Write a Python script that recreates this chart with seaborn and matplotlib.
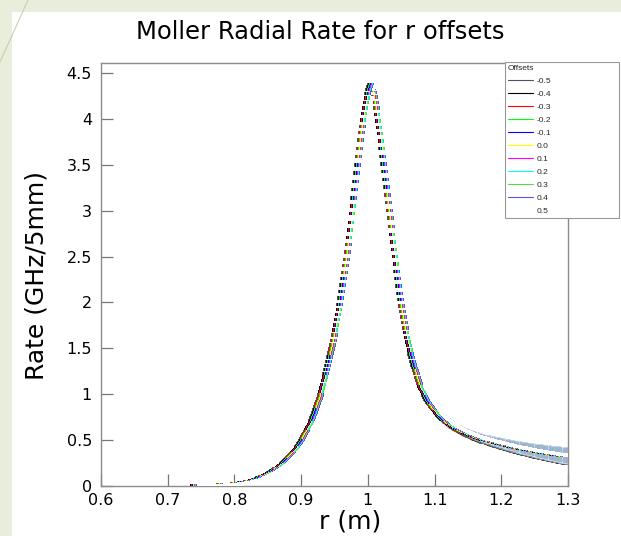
import numpy as np
import pandas as pd
import matplotlib
matplotlib.use("Agg")
import matplotlib.pyplot as plt
from matplotlib.lines import Line2D
from matplotlib.patches import Rectangle
import seaborn as sns

# ---------------- data ----------------
offsets = [-0.5, -0.4, -0.3, -0.2, -0.1, 0.0, 0.1, 0.2, 0.3, 0.4, 0.5]   # r offsets (cm)
offset_labels = ["-0.5", "-0.4", "-0.3", "-0.2", "-0.1", "0.0", "0.1", "0.2", "0.3", "0.4", "0.5"]
colors = ["#5a4a6a", "#000000", "#ff0000", "#00ff00", "#0000ff", "#ffff00",
          "#ff00ff", "#00ffff", "#59d454", "#5954d8", "#ffffff"]

# histogram: 500 bins over 0.6-1.3 m; bins 100..499 (r >= 0.74 m) are filled
bin_index = np.arange(100, 500)
rate_base = [
    0.002, 0.002, 0.002, 0.002, 0.003, 0.003, 0.003, 0.003, 0.003, 0.003,
    0.003, 0.004, 0.004, 0.004, 0.004, 0.004, 0.005, 0.005, 0.005, 0.005,
    0.006, 0.006, 0.006, 0.007, 0.007, 0.007, 0.008, 0.008, 0.009, 0.009,
    0.010, 0.010, 0.011, 0.011, 0.012, 0.013, 0.014, 0.015, 0.016, 0.017,
    0.017, 0.018, 0.019, 0.020, 0.021, 0.023, 0.024, 0.025, 0.027, 0.028,
    0.030, 0.031, 0.033, 0.035, 0.037, 0.038, 0.040, 0.042, 0.044, 0.046,
    0.049, 0.052, 0.054, 0.057, 0.060, 0.063, 0.066, 0.070, 0.074, 0.078,
    0.085, 0.089, 0.093, 0.097, 0.101, 0.106, 0.110, 0.115, 0.120, 0.126,
    0.131, 0.137, 0.143, 0.149, 0.156, 0.162, 0.169, 0.176, 0.184, 0.191,
    0.193, 0.201, 0.209, 0.217, 0.226, 0.235, 0.244, 0.254, 0.264, 0.275,
    0.283, 0.293, 0.303, 0.314, 0.325, 0.336, 0.348, 0.360, 0.373, 0.386,
    0.399, 0.413, 0.428, 0.443, 0.460, 0.477, 0.495, 0.514, 0.534, 0.554,
    0.572, 0.590, 0.610, 0.630, 0.651, 0.672, 0.694, 0.716, 0.739, 0.763,
    0.800, 0.830, 0.861, 0.892, 0.923, 0.955, 0.990, 1.030, 1.068, 1.108,
    1.148, 1.188, 1.228, 1.270, 1.314, 1.359, 1.404, 1.449, 1.494, 1.538,
    1.588, 1.644, 1.700, 1.756, 1.812, 1.868, 1.924, 1.980, 2.050, 2.120,
    2.190, 2.260, 2.330, 2.400, 2.470, 2.550, 2.630, 2.710, 2.790, 2.870,
    2.970, 3.050, 3.140, 3.230, 3.320, 3.410, 3.500, 3.590, 3.680, 3.770,
    3.850, 3.920, 3.990, 4.060, 4.120, 4.180, 4.230, 4.280, 4.320, 4.350,
    4.370, 4.360, 4.330, 4.290, 4.240, 4.180, 4.120, 4.050, 3.980, 3.910,
    3.840, 3.760, 3.680, 3.590, 3.510, 3.430, 3.340, 3.260, 3.170, 3.090,
    3.000, 2.920, 2.830, 2.740, 2.660, 2.580, 2.500, 2.420, 2.340, 2.260,
    2.180, 2.100, 2.030, 1.960, 1.900, 1.840, 1.780, 1.720, 1.670, 1.620,
    1.570, 1.530, 1.480, 1.440, 1.400, 1.360, 1.320, 1.290, 1.260, 1.230,
    1.180, 1.150, 1.120, 1.090, 1.070, 1.050, 1.030, 1.010, 0.990, 0.970,
    0.945, 0.930, 0.915, 0.900, 0.886, 0.872, 0.858, 0.845, 0.832, 0.820,
    0.808, 0.796, 0.783, 0.770, 0.758, 0.749, 0.740, 0.731, 0.722, 0.714,
    0.706, 0.698, 0.691, 0.684, 0.677, 0.670, 0.663, 0.656, 0.649, 0.642,
    0.637, 0.631, 0.626, 0.620, 0.615, 0.609, 0.604, 0.599, 0.595, 0.591,
    0.587, 0.582, 0.578, 0.574, 0.570, 0.566, 0.562, 0.558, 0.554, 0.550,
    0.545, 0.541, 0.538, 0.534, 0.531, 0.527, 0.524, 0.521, 0.517, 0.514,
    0.515, 0.512, 0.509, 0.506, 0.503, 0.500, 0.497, 0.494, 0.491, 0.488,
    0.486, 0.483, 0.480, 0.478, 0.475, 0.472, 0.470, 0.467, 0.465, 0.462,
    0.460, 0.457, 0.455, 0.452, 0.450, 0.447, 0.445, 0.442, 0.440, 0.437,
    0.435, 0.433, 0.431, 0.429, 0.427, 0.424, 0.422, 0.420, 0.418, 0.416,
    0.414, 0.412, 0.410, 0.408, 0.406, 0.404, 0.402, 0.400, 0.398, 0.396,
    0.394, 0.392, 0.390, 0.388, 0.386, 0.384, 0.383, 0.381, 0.379, 0.377,
    0.375, 0.373, 0.372, 0.370, 0.368, 0.366, 0.365, 0.363, 0.361, 0.360,
    0.358, 0.356, 0.355, 0.353, 0.352, 0.350, 0.349, 0.347, 0.346, 0.344,
    0.343, 0.341, 0.340, 0.339, 0.337, 0.336, 0.335, 0.333, 0.332, 0.331,
]
rate_err = [0.0] * 250 + [
    0.012, 0.013, 0.013, 0.014, 0.014, 0.015, 0.015, 0.016, 0.016, 0.017,
    0.018, 0.018, 0.019, 0.019, 0.020, 0.020, 0.021, 0.021, 0.022, 0.022,
    0.023, 0.023, 0.024, 0.024, 0.025, 0.026, 0.026, 0.027, 0.027, 0.028,
    0.028, 0.029, 0.029, 0.030, 0.030, 0.031, 0.031, 0.032, 0.032, 0.033,
    0.034, 0.034, 0.035, 0.035, 0.036, 0.036, 0.037, 0.037, 0.038, 0.038,
    0.039, 0.039, 0.040, 0.040, 0.041, 0.042, 0.042, 0.043, 0.043, 0.044,
    0.044, 0.045, 0.045, 0.046, 0.046, 0.047, 0.047, 0.048, 0.048, 0.049,
    0.050, 0.050, 0.051, 0.051, 0.052, 0.052, 0.053, 0.053, 0.054, 0.054,
    0.055, 0.055, 0.056, 0.056, 0.057, 0.058, 0.058, 0.059, 0.059, 0.060,
    0.060, 0.061, 0.061, 0.062, 0.062, 0.063, 0.063, 0.064, 0.064, 0.065,
    0.066, 0.066, 0.067, 0.067, 0.068, 0.068, 0.069, 0.069, 0.070, 0.070,
    0.071, 0.071, 0.072, 0.072, 0.073, 0.074, 0.074, 0.075, 0.075, 0.076,
    0.076, 0.077, 0.077, 0.078, 0.078, 0.079, 0.079, 0.080, 0.080, 0.081,
    0.082, 0.082, 0.083, 0.083, 0.084, 0.084, 0.085, 0.085, 0.086, 0.086,
    0.087, 0.087, 0.088, 0.088, 0.089, 0.090, 0.090, 0.091, 0.091, 0.092,
]

R_MIN, BIN_W = 0.6, 0.0014
rows = []
for off, lab in zip(offsets, offset_labels):
    for k, v, e in zip(bin_index, rate_base, rate_err):
        r = R_MIN + BIN_W * (k + 0.5) + off / 100.0
        rows.append({"r": r, "rate": v, "err": e, "offset": lab})
df = pd.DataFrame(rows)

# ---------------- figure ----------------
sns.set_theme(style="white")
plt.rcParams["font.family"] = ["DejaVu Sans"]

W, H = 621, 536
fig = plt.figure(figsize=(W / 100, H / 100), dpi=100, facecolor="#e9eddc")
fig.patches.append(Rectangle((12 / W, 0), 1, 1 - 12 / H, transform=fig.transFigure,
                             facecolor="white", edgecolor="none", zorder=-5))
fig.lines.append(Line2D([0 / W, 28 / W], [1 - 62 / H, 1 - 0 / H], transform=fig.transFigure,
                        color="#c9cfb4", lw=0.8, zorder=-4))

ax = fig.add_axes([101 / W, 1 - 486 / H, (568 - 101) / W, (486 - 63) / H])
ax.set_facecolor("white")
ax.set_zorder(1)

palette = dict(zip(offset_labels, colors))
for lab in offset_labels:
    sub = df[df["offset"] == lab]
    tail = sub[sub["err"] > 0]
    ax.errorbar(tail["r"], tail["rate"], yerr=tail["err"], fmt="none",
                ecolor=palette[lab], elinewidth=0.5, capsize=0.9, capthick=0.5,
                alpha=0.55, zorder=2)
sns.scatterplot(data=df, x="r", y="rate", hue="offset", hue_order=offset_labels,
                palette=palette, marker="s", s=6, linewidth=0,
                legend=False, ax=ax, zorder=3)

ax.set_xlim(0.6, 1.3)
ax.set_ylim(0, 4.61)
ax.set_xticks(np.arange(0.6, 1.301, 0.1))
ax.set_xticklabels(["0.6", "0.7", "0.8", "0.9", "1", "1.1", "1.2", "1.3"])
ax.set_xticks(np.arange(0.6, 1.301, 0.02), minor=True)
ax.set_yticks(np.arange(0, 4.51, 0.5))
ax.set_yticklabels(["0", "0.5", "1", "1.5", "2", "2.5", "3", "3.5", "4", "4.5"])
ax.set_yticks(np.arange(0, 4.61, 0.1), minor=True)
ax.tick_params(axis="both", which="both", direction="in", color="#777777",
               labelsize=11.5, labelcolor="black")
ax.tick_params(axis="both", which="major", length=8.5, width=0.9)
ax.tick_params(axis="both", which="minor", length=4.3, width=0.9)
ax.tick_params(axis="y", pad=6.5)
ax.tick_params(axis="x", pad=5)
ax.tick_params(left=True, bottom=True, top=False, right=False)
for s in ax.spines.values():
    s.set_color("#8a8a8a")
    s.set_linewidth(1.0)
ax.set_xlabel("")
ax.set_ylabel("")

fig.text(350 / W, 1 - 522 / H, "r (m)", ha="center", va="center", fontsize=18,
         color="black")
fig.text(37 / W, 1 - 276 / H, "Rate (GHz/5mm)", ha="center", va="center", fontsize=18,
         rotation=90, color="black")
fig.text(320 / W, 1 - 32 / H, "Moller Radial Rate for r offsets", ha="center", va="center",
         fontsize=17.5, color="black")

handles = [Line2D([0], [0], color=c, lw=0.8) for c in colors]
leg = fig.legend(handles, offset_labels, loc="upper left",
                 bbox_to_anchor=(505 / W, 1 - 62 / H - 0.01, (619 - 505) / W, 0.01),
                 mode="expand", title="Offsets", alignment="left",
                 prop={"family": "Liberation Sans", "size": 6},
                 title_fontproperties={"family": "Liberation Sans", "size": 6},
                 frameon=True, fancybox=False,
                 edgecolor="#999999", framealpha=1, handlelength=3.0,
                 handletextpad=0.4, labelspacing=0.62, borderpad=0.35,
                 borderaxespad=0)
leg.get_frame().set_linewidth(0.8)
leg.set_zorder(5)

fig.savefig("out.png", dpi=100, facecolor=fig.get_facecolor())
